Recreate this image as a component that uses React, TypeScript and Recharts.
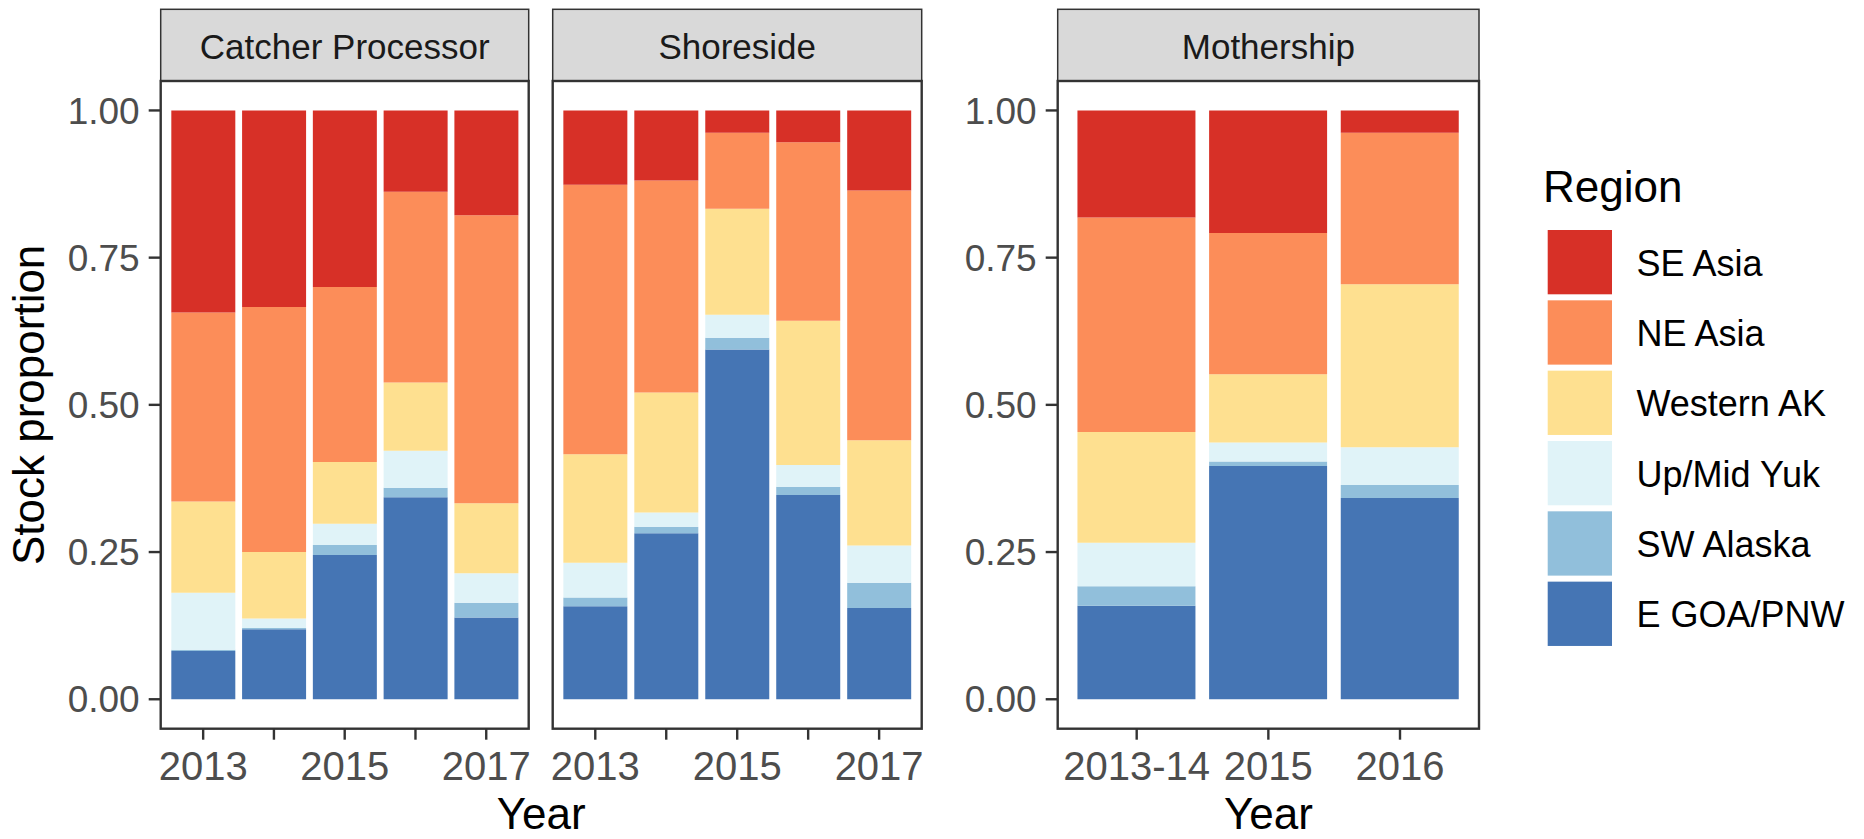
import React from 'react';
import { BarChart, Bar, XAxis, YAxis } from 'recharts';

// ---------- data ----------
const regions = ['SE Asia', 'NE Asia', 'Western AK', 'Up/Mid Yuk', 'SW Alaska', 'E GOA/PNW'];
const regionKeys = ['se', 'ne', 'wak', 'upmid', 'sw', 'egoa'];
const regionColors = ['#D73027', '#FC8D59', '#FEE090', '#E0F3F8', '#91BFDB', '#4575B4'];

const panelTitles = ['Catcher Processor', 'Shoreside', 'Mothership'];

// Catcher Processor
const cpYears = ['2013', '2014', '2015', '2016', '2017'];
const cpSE = [0.343, 0.334, 0.3, 0.138, 0.178];
const cpNE = [0.321, 0.416, 0.297, 0.324, 0.489];
const cpWAK = [0.155, 0.113, 0.105, 0.116, 0.119];
const cpUpMid = [0.097, 0.016, 0.036, 0.063, 0.05];
const cpSW = [0.002, 0.002, 0.017, 0.016, 0.025];
const cpEGOA = [0.082, 0.119, 0.245, 0.343, 0.139];

// Shoreside
const ssYears = ['2013', '2014', '2015', '2016', '2017'];
const ssSE = [0.126, 0.119, 0.038, 0.054, 0.136];
const ssNE = [0.458, 0.36, 0.129, 0.303, 0.424];
const ssWAK = [0.184, 0.204, 0.18, 0.245, 0.179];
const ssUpMid = [0.059, 0.024, 0.039, 0.037, 0.063];
const ssSW = [0.015, 0.011, 0.02, 0.014, 0.043];
const ssEGOA = [0.158, 0.282, 0.594, 0.347, 0.155];

// Mothership
const msYears = ['2013-14', '2015', '2016'];
const msSE = [0.182, 0.208, 0.038];
const msNE = [0.364, 0.24, 0.257];
const msWAK = [0.188, 0.116, 0.277];
const msUpMid = [0.074, 0.032, 0.064];
const msSW = [0.033, 0.008, 0.022];
const msEGOA = [0.159, 0.396, 0.342];

// tick labels
const yTicks = [0, 0.25, 0.5, 0.75, 1];
const fleetYearLabels = ['2013', '2015', '2017'];
const msYearLabels = ['2013-14', '2015', '2016'];

const makeRows = (cats: string[], series: number[][]) =>
  cats.map((c, i) => {
    const row: Record<string, any> = { year: c };
    regionKeys.forEach((k, j) => {
      row[k] = series[j][i];
    });
    return row;
  });

const cpData = makeRows(cpYears, [cpSE, cpNE, cpWAK, cpUpMid, cpSW, cpEGOA]);
const ssData = makeRows(ssYears, [ssSE, ssNE, ssWAK, ssUpMid, ssSW, ssEGOA]);
const msData = makeRows(msYears, [msSE, msNE, msWAK, msUpMid, msSW, msEGOA]);

// ---------- layout ----------
const FONT = '"Liberation Sans", Arial, Helvetica, sans-serif';
const W = 1864;
const H = 839;
const PLOT_TOP = 81;
const PLOT_BOTTOM = 728.7;
const STRIP_TOP = 9.3;
const XAXIS_H = 60;
const panels = [
  { left: 160.7, right: 528.7 },
  { left: 552.7, right: 921.7 },
  { left: 1057.7, right: 1479 },
];

const xTickStyle = { fill: '#4D4D4D', fontSize: 40, fontFamily: FONT };
const yTickStyle = { fill: '#4D4D4D', fontSize: 37, fontFamily: FONT };
const tickLineStyle = { stroke: '#333333', strokeWidth: 2.4 };

const fmtY = (v: any) => Number(v).toFixed(2);

const stackOrder = [...regionKeys].reverse();
const colorOf = (k: string) => regionColors[regionKeys.indexOf(k)];

function Panel({
  data,
  divLeft,
  divWidth,
  panel,
  showY,
  n,
  labels,
}: {
  data: any[];
  divLeft: number;
  divWidth: number;
  panel: { left: number; right: number };
  showY: boolean;
  n: number;
  labels: string[];
}) {
  const plotW = panel.right - panel.left;
  const band = plotW / (n + 0.2);
  const pad = band * 0.1;
  const yAxisW = showY ? panel.left - divLeft : 0;
  const marginLeft = showY ? 0 : panel.left - divLeft;
  const fmtYear = (v: any) => (labels.includes(String(v)) ? String(v) : '');
  return (
    <div style={{ position: 'absolute', left: divLeft, top: 0, width: divWidth, height: H }}>
      <BarChart
        width={divWidth}
        height={H}
        data={data}
        margin={{
          top: PLOT_TOP,
          right: divLeft + divWidth - panel.right,
          bottom: H - PLOT_BOTTOM - XAXIS_H,
          left: marginLeft,
        }}
        barCategoryGap="5%"
      >
        <XAxis
          dataKey="year"
          type="category"
          height={XAXIS_H}
          interval={0}
          padding={{ left: pad, right: pad }}
          axisLine={false}
          stroke="#333333"
          tickLine={tickLineStyle}
          tickSize={11}
          tickMargin={12}
          tick={xTickStyle}
          tickFormatter={fmtYear}
        />
        <YAxis
          type="number"
          domain={[-0.05, 1.05]}
          allowDataOverflow
          ticks={yTicks}
          hide={!showY}
          width={yAxisW}
          axisLine={false}
          stroke="#333333"
          tickLine={tickLineStyle}
          tickSize={12}
          tickMargin={9}
          tick={yTickStyle}
          tickFormatter={fmtY}
          interval={0}
        />
        {stackOrder.map((k) => (
          <Bar key={k} dataKey={k} stackId="s" fill={colorOf(k)} isAnimationActive={false} />
        ))}
      </BarChart>
    </div>
  );
}

export default function App() {
  const legendX = 1547.7;
  const legendTop = 230;
  const keySize = 64.3;
  const keyStep = 70.33;
  return (
    <div style={{ position: 'absolute', left: 0, top: 0, width: W, height: H, background: '#fff', fontFamily: FONT }}>
      <Panel data={cpData} divLeft={0} divWidth={540} panel={panels[0]} showY n={cpYears.length} labels={fleetYearLabels} />
      <Panel data={ssData} divLeft={540} divWidth={392} panel={panels[1]} showY={false} n={ssYears.length} labels={fleetYearLabels} />
      <Panel data={msData} divLeft={932} divWidth={560} panel={panels[2]} showY n={msYears.length} labels={msYearLabels} />
      <svg
        width={W}
        height={H}
        style={{ position: 'absolute', left: 0, top: 0, pointerEvents: 'none' }}
      >
        {panels.map((p, i) => (
          <g key={i}>
            <rect
              x={p.left}
              y={STRIP_TOP}
              width={p.right - p.left}
              height={PLOT_TOP - STRIP_TOP}
              fill="#D9D9D9"
              stroke="#333333"
              strokeWidth={1.5}
            />
            <text
              x={(p.left + p.right) / 2}
              y={59}
              textAnchor="middle"
              fontSize={35}
              fontFamily={FONT}
              fill="#1A1A1A"
            >
              {panelTitles[i]}
            </text>
            <rect
              x={p.left}
              y={PLOT_TOP}
              width={p.right - p.left}
              height={PLOT_BOTTOM - PLOT_TOP}
              fill="none"
              stroke="#333333"
              strokeWidth={2.4}
            />
          </g>
        ))}
        <text
          x={44}
          y={(PLOT_TOP + PLOT_BOTTOM) / 2}
          transform={`rotate(-90 44 ${(PLOT_TOP + PLOT_BOTTOM) / 2})`}
          textAnchor="middle"
          fontSize={44}
          fontFamily={FONT}
          fill="#000"
        >
          Stock proportion
        </text>
        <text x={(panels[0].left + panels[1].right) / 2} y={829} textAnchor="middle" fontSize={44} fontFamily={FONT} fill="#000">
          Year
        </text>
        <text x={(panels[2].left + panels[2].right) / 2} y={829} textAnchor="middle" fontSize={44} fontFamily={FONT} fill="#000">
          Year
        </text>
        <text x={1543} y={201.7} fontSize={44} fontFamily={FONT} fill="#000">
          Region
        </text>
        {regions.map((r, i) => (
          <g key={r}>
            <rect
              x={legendX}
              y={legendTop + i * keyStep}
              width={keySize}
              height={keySize}
              fill={regionColors[i]}
            />
            <text
              x={1636.5}
              y={legendTop + i * keyStep + keySize / 2 + 13.5}
              fontSize={36}
              fontFamily={FONT}
              fill="#000"
            >
              {r}
            </text>
          </g>
        ))}
      </svg>
    </div>
  );
}
